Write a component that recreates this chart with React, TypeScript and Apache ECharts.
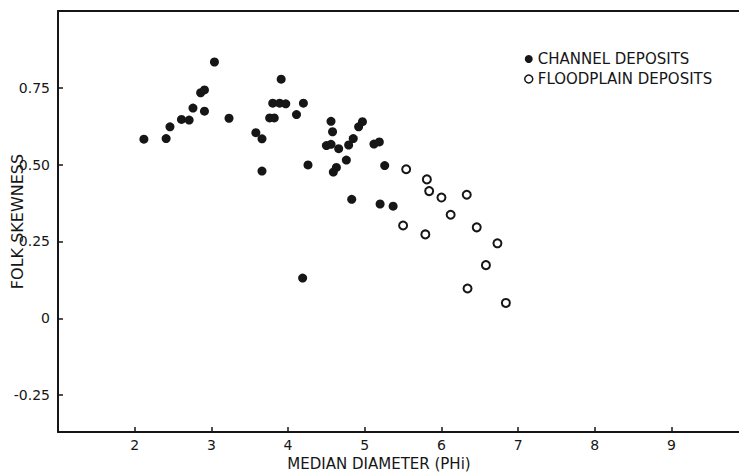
import React, { useEffect, useRef } from "react";
import * as echarts from "echarts";

const channelDeposits: [number, number][] = [
  [2.12, 0.583], [2.41, 0.585], [2.46, 0.623], [2.61, 0.647], [2.71, 0.645],
  [2.76, 0.684], [2.86, 0.734], [2.91, 0.743], [2.91, 0.674], [3.04, 0.834],
  [3.23, 0.651], [3.58, 0.604], [3.66, 0.584], [3.66, 0.479], [3.91, 0.778],
  [3.76, 0.652], [3.82, 0.652], [3.80, 0.700], [3.89, 0.700], [3.97, 0.698],
  [4.11, 0.663], [4.20, 0.700], [4.26, 0.499], [4.19, 0.131], [4.56, 0.641],
  [4.58, 0.607], [4.50, 0.562], [4.56, 0.566], [4.66, 0.552], [4.76, 0.515],
  [4.79, 0.564], [4.85, 0.585], [4.92, 0.623], [4.97, 0.640], [4.59, 0.476],
  [4.63, 0.491], [4.83, 0.387], [5.12, 0.567], [5.19, 0.574], [5.26, 0.497],
  [5.20, 0.372], [5.37, 0.365],
];

const floodplainDeposits: [number, number][] = [
  [5.54, 0.485], [5.81, 0.452], [5.84, 0.414], [6.00, 0.393], [6.33, 0.402],
  [6.12, 0.337], [5.50, 0.302], [5.79, 0.273], [6.46, 0.296], [6.73, 0.244],
  [6.58, 0.173], [6.34, 0.097], [6.84, 0.050],
];

const xTicks = [2, 3, 4, 5, 6, 7, 8, 9];
const yTicks = [-0.25, 0, 0.25, 0.5, 0.75];

const seriesNames = ["CHANNEL DEPOSITS", "FLOODPLAIN DEPOSITS"];
const xTitle = "MEDIAN DIAMETER (PHi)";
const yTitle = "FOLK SKEWNESS";

const INK = "#161616";
const FONT = "DejaVu Sans";

export default function App() {
  const ref = useRef<HTMLDivElement>(null);

  useEffect(() => {
    if (!ref.current) return;
    const chart = echarts.init(ref.current, null, { renderer: "svg" });
    chart.setOption({
      animation: false,
      backgroundColor: "#ffffff",
      grid: {
        left: 58,
        right: 0,
        top: 11,
        bottom: 40,
        containLabel: false,
        outerBoundsMode: "none",
      },
      legend: {
        orient: "vertical",
        left: 524,
        top: 51,
        padding: 0,
        itemWidth: 8,
        itemHeight: 8,
        itemGap: 4,
        icon: "circle",
        textStyle: { fontFamily: FONT, fontSize: 15, color: INK, lineHeight: 16 },
        data: [
          { name: seriesNames[0], itemStyle: { color: INK, borderWidth: 0 } },
          { name: seriesNames[1], itemStyle: { color: "#fff", borderColor: INK, borderWidth: 1.5 } },
        ],
      },
      xAxis: [
        {
          type: "value",
          min: 1,
          max: 9.88,
          position: "bottom",
          splitLine: { show: false },
          axisLine: { show: true, onZero: false, lineStyle: { color: INK, width: 2 } },
          axisTick: { show: true, inside: true, length: 5, customValues: xTicks, lineStyle: { color: INK, width: 1.5 } },
          axisLabel: {
            customValues: xTicks,
            margin: 6,
            fontFamily: FONT,
            fontSize: 14,
            color: INK,
          },
          name: xTitle,
          nameLocation: "middle",
          nameGap: 24,
          nameMoveOverlap: false,
          nameTextStyle: { fontFamily: FONT, fontSize: 15, color: INK, padding: [0, 39, 0, 0] },
        },
        {
          type: "value",
          min: 1,
          max: 9.88,
          position: "top",
          splitLine: { show: false },
          axisLine: { show: true, onZero: false, lineStyle: { color: INK, width: 2 } },
          axisTick: { show: false },
          axisLabel: { show: false },
        },
      ],
      yAxis: {
        type: "value",
        min: -0.37,
        max: 1.0,
        splitLine: { show: false },
        axisLine: { show: true, onZero: false, lineStyle: { color: INK, width: 2 } },
        axisTick: { show: true, inside: true, length: 5, customValues: yTicks, lineStyle: { color: INK, width: 1.5 } },
        axisLabel: {
          customValues: yTicks,
          margin: 8,
          fontFamily: FONT,
          fontSize: 14,
          color: INK,
          formatter: (v: number) => (Math.abs(v) < 1e-9 ? "0" : v.toFixed(2)),
        },
        name: yTitle,
        nameLocation: "middle",
        nameGap: 33,
        nameMoveOverlap: false,
        nameTextStyle: { fontFamily: FONT, fontSize: 16, color: INK },
      },
      series: [
        {
          name: seriesNames[0],
          type: "scatter",
          xAxisIndex: 0,
          data: channelDeposits,
          symbol: "circle",
          symbolSize: 9,
          itemStyle: { color: INK, opacity: 1 },
        },
        {
          name: seriesNames[1],
          type: "scatter",
          xAxisIndex: 0,
          data: floodplainDeposits,
          symbol: "circle",
          symbolSize: 8,
          itemStyle: { color: "#ffffff", borderColor: INK, borderWidth: 2, opacity: 1 },
        },
      ],
    });
    return () => chart.dispose();
  }, []);

  return (
    <div
      ref={ref}
      style={{ position: "fixed", left: 0, top: 0, width: 739, height: 472, background: "#fff" }}
    />
  );
}
